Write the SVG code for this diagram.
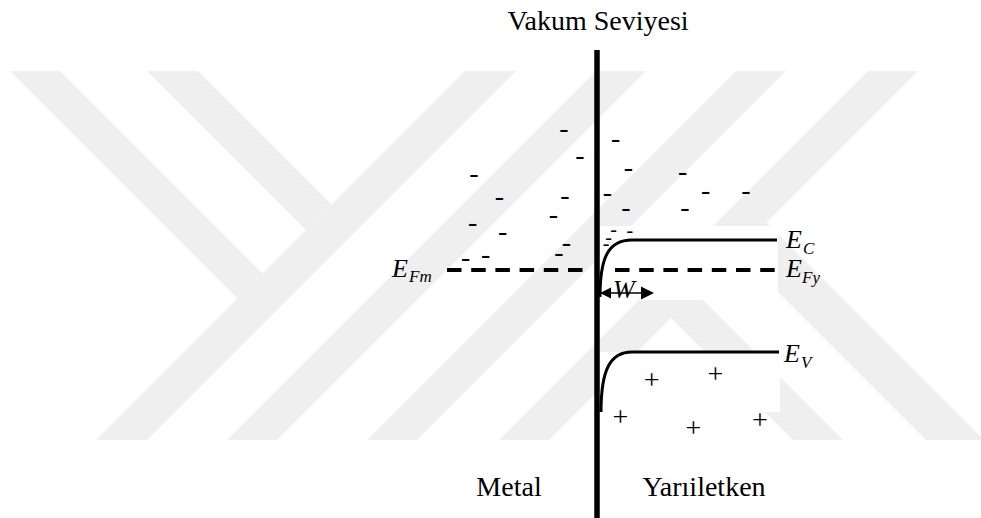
<svg xmlns="http://www.w3.org/2000/svg" width="981" height="518" viewBox="0 0 981 518">
<style>
.wm{fill:#efefef;stroke:none}
.blank{fill:#ffffff;stroke:none}
.t{font-family:"Liberation Serif","Times New Roman",serif;fill:#000}
.lbl{font-size:28px}
.ei{font-family:"Liberation Serif","Times New Roman",serif;font-style:italic;font-size:26px;fill:#000}
.sub{font-size:17px}
.m{font-family:"Liberation Serif","Times New Roman",serif;font-size:28px;text-anchor:middle;fill:#000}
.ms{font-size:20px}
.p{font-family:"Liberation Serif","Times New Roman",serif;font-size:28px;text-anchor:middle;fill:#000}
.band{fill:none;stroke:#000;stroke-width:3}
.dash{fill:none;stroke:#000;stroke-width:4;stroke-dasharray:14.5 9.7}
</style>
<rect x="0" y="0" width="981" height="518" fill="#ffffff"/>
<g id="watermark">
<polygon class="wm" points="10,71 60,71 280,291 237.5,298.5"/>
<polygon class="wm" points="147,71 198,71 331.5,204.5 306,230"/>
<polygon class="wm" points="465,71 516,71 147,440 96,440"/>
<polygon class="wm" points="596,71 646,71 277,440 227,440"/>
<polygon class="wm" points="736,71 786,71 417,440 367,440"/>
<polygon class="wm" points="868,71 918,71 549,440 499,440"/>
<polygon class="wm" points="712.5,226.5 766.5,222.5 984,440 926,440"/>
<polygon class="wm" points="671,268 843,440 793,440 671,318"/>
<rect class="blank" x="600" y="226" width="178" height="74"/>
<rect class="blank" x="600" y="352" width="180" height="60"/>
</g>
<g id="connectors">
<line id="interface" x1="597" y1="50" x2="597" y2="518" stroke="#000" stroke-width="5.5"/>
<line id="efm-line" class="dash" x1="447" y1="270" x2="583" y2="270"/>
<line id="efy-line" class="dash" x1="615" y1="270" x2="775" y2="270"/>
<path id="ec-band" class="band" d="M600,297 C600,258 608,240 632,240 L777,240"/>
<path id="ev-band" class="band" d="M601,412 C601,370 610,352 632,352 L779,352"/>
<g id="w-arrow">
<line x1="606" y1="293" x2="644" y2="293" stroke="#000" stroke-width="1.5"/>
<polygon points="600,293 611,287.5 611,298.5" fill="#000"/>
<polygon points="654,293 641,286.5 641,299.5" fill="#000"/>
</g>
</g>
<g id="title"><text class="t lbl" x="598" y="30" text-anchor="middle">Vakum Seviyesi</text></g>
<g id="metal"><text class="t lbl" x="509" y="496" text-anchor="middle">Metal</text></g>
<g id="semiconductor"><text class="t lbl" x="704" y="496" text-anchor="middle">Yarıiletken</text></g>
<g id="label-efm"><text class="ei" x="392" y="277">E<tspan class="sub" x="409" y="282">Fm</tspan></text></g>
<g id="label-ec"><text class="ei" x="786" y="248">E<tspan class="sub" x="803" y="254">C</tspan></text></g>
<g id="label-efy"><text class="ei" x="786" y="277">E<tspan class="sub" x="802" y="283">Fy</tspan></text></g>
<g id="label-ev"><text class="ei" x="784" y="362">E<tspan class="sub" x="801" y="368">V</tspan></text></g>
<g id="label-w"><text class="ei" x="613" y="298">W</text></g>
<g id="electrons">
<text class="m" x="564" y="137.3">-</text>
<text class="m" x="580" y="163.8">-</text>
<text class="m" x="474" y="182.3">-</text>
<text class="m" x="499.5" y="205.3">-</text>
<text class="m" x="565" y="204.3">-</text>
<text class="m" x="553.5" y="222.8">-</text>
<text class="m" x="472.7" y="230.8">-</text>
<text class="m" x="502.7" y="240.1">-</text>
<text class="m" x="566.5" y="250.5">-</text>
<text class="m" x="559" y="260.8">-</text>
<text class="m" x="465.7" y="265.5">-</text>
<text class="m" x="485.7" y="263">-</text>
<text class="m" x="615.7" y="146.8">-</text>
<text class="m" x="628.5" y="175.6">-</text>
<text class="m" x="682.7" y="180">-</text>
<text class="m" x="607.5" y="200.8">-</text>
<text class="m" x="705.7" y="198.5">-</text>
<text class="m" x="746" y="199.3">-</text>
<text class="m" x="626" y="215.7">-</text>
<text class="m" x="685" y="215.6">-</text>
<text class="m ms" x="613.5" y="236">-</text>
<text class="m ms" x="629.8" y="237.1">-</text>
<text class="m ms" x="608.5" y="243.8">-</text>
<text class="m ms" x="606" y="250">-</text>
</g>
<g id="holes">
<text class="p" x="651.7" y="388.8">+</text>
<text class="p" x="715.5" y="383">+</text>
<text class="p" x="620.5" y="426">+</text>
<text class="p" x="693.3" y="436.5">+</text>
<text class="p" x="760" y="429">+</text>
</g>
</svg>
